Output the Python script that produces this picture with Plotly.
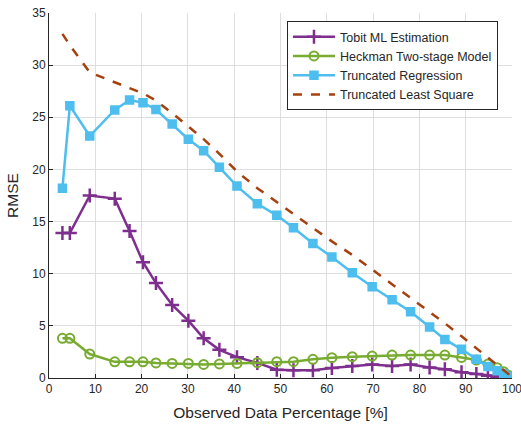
import plotly.graph_objects as go

# Observed data percentage [%]
x_pct = [2.9, 4.5, 8.8, 14.2, 17.4, 20.3, 23.1, 26.6, 30.1, 33.4, 36.8, 40.6, 45.0, 49.2, 52.8,
         57.0, 61.1, 65.5, 69.8, 74.1, 78.1, 82.2, 85.5, 89.1, 92.3, 94.8, 96.8, 98.2, 99.3, 100.0]

tobit = [13.9, 13.9, 17.5, 17.2, 14.1, 11.1, 9.1, 7.0, 5.5, 3.8, 2.7, 2.0, 1.45, 0.8, 0.75,
         0.75, 0.95, 1.15, 1.3, 1.15, 1.3, 1.0, 0.85, 0.55, 0.38, 0.22, 0.12, 0.06, 0.02, 0.0]

heckman = [3.8, 3.8, 2.3, 1.55, 1.55, 1.55, 1.45, 1.4, 1.4, 1.3, 1.35, 1.4, 1.47, 1.56, 1.56,
           1.79, 1.95, 2.04, 2.1, 2.2, 2.2, 2.2, 2.2, 1.97, 1.72, 1.34, 0.99, 0.6, 0.25, 0.0]

trunc_reg = [18.2, 26.1, 23.2, 25.7, 26.65, 26.4, 25.75, 24.35, 22.9, 21.8, 20.2, 18.4, 16.7, 15.6, 14.4,
             12.9, 11.6, 10.1, 8.75, 7.5, 6.36, 4.9, 3.7, 2.75, 1.8, 1.1, 0.7, 0.4, 0.15, 0.0]

trunc_ls = [33.0, 31.9, 29.3, 28.4, 27.8, 27.3, 26.6, 25.4, 24.1, 22.9, 21.5, 19.8, 18.2, 16.9, 15.7,
            14.4, 13.1, 11.8, 10.4, 9.0, 7.7, 6.4, 5.25, 4.0, 2.85, 1.95, 1.25, 0.75, 0.35, 0.0]

series_names = ["Tobit ML Estimation", "Heckman Two-stage Model",
                "Truncated Regression", "Truncated Least Square"]

x_ticks = [0, 10, 20, 30, 40, 50, 60, 70, 80, 90, 100]
y_ticks = [0, 5, 10, 15, 20, 25, 30, 35]

PURPLE = "#7E2F8E"
GREEN = "#77AC30"
BLUE = "#4DBEEE"
RUST = "#A5400F"
FONT = "Liberation Sans"
TXT = "#262626"

fig = go.Figure()
fig.add_trace(go.Scatter(
    x=x_pct, y=tobit, name=series_names[0], mode="lines+markers",
    line=dict(color=PURPLE, width=2.5),
    marker=dict(symbol="cross-thin", size=10, color=PURPLE, line=dict(color=PURPLE, width=2.5)),
))
fig.add_trace(go.Scatter(
    x=x_pct, y=heckman, name=series_names[1], mode="lines+markers",
    line=dict(color=GREEN, width=2.5),
    marker=dict(symbol="circle-open", size=9, color=GREEN, line=dict(color=GREEN, width=2)),
))
fig.add_trace(go.Scatter(
    x=x_pct, y=trunc_reg, name=series_names[2], mode="lines+markers",
    line=dict(color=BLUE, width=2.5),
    marker=dict(symbol="square", size=8, color=BLUE, line=dict(color=BLUE, width=1.5)),
))
fig.add_trace(go.Scatter(
    x=x_pct, y=trunc_ls, name=series_names[3], mode="lines",
    line=dict(color=RUST, width=2.5, dash="dash"),
))

fig.update_layout(
    width=521, height=425,
    margin=dict(l=49, r=9, t=13, b=47, autoexpand=False),
    paper_bgcolor="white", plot_bgcolor="white",
    font=dict(family=FONT, color=TXT, size=12),
    showlegend=True,
    legend=dict(
        x=0.514, y=0.978, xanchor="left", yanchor="top",
        bgcolor="white", bordercolor="#262626", borderwidth=1,
        font=dict(family=FONT, size=12.5, color=TXT),
        tracegroupgap=0, itemwidth=42,
    ),
)
fig.update_xaxes(
    range=[0, 100], tickvals=x_ticks, ticktext=[str(v) for v in x_ticks],
    automargin=False, ticklabeloverflow="allow",
    showgrid=True, gridcolor="#dedede", gridwidth=1,
    showline=True, linecolor="#262626", linewidth=1,
    ticks="inside", ticklen=4, tickcolor="#262626",
    tickfont=dict(family=FONT, size=12, color=TXT),
    title=dict(text="Observed Data Percentage [%]", font=dict(family=FONT, size=15.5, color=TXT), standoff=11),
    zeroline=False,
)
fig.update_yaxes(
    range=[0, 35], tickvals=y_ticks, ticktext=[str(v) for v in y_ticks],
    automargin=False, ticklabeloverflow="allow",
    showgrid=True, gridcolor="#dedede", gridwidth=1,
    showline=True, linecolor="#262626", linewidth=1,
    ticks="inside", ticklen=4, tickcolor="#262626",
    tickfont=dict(family=FONT, size=12, color=TXT),
    title=dict(text="RMSE", font=dict(family=FONT, size=15.5, color=TXT), standoff=9),
    zeroline=False,
)

fig.write_html(
    "out.html",
    config={"displayModeBar": False},
    post_script="document.body.style.margin='0';document.body.style.overflow='hidden';",
)
